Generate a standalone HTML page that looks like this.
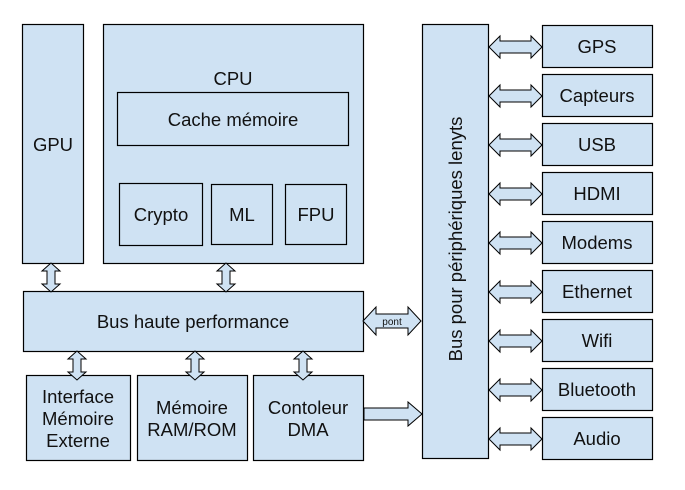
<!DOCTYPE html>
<html><head><style>
body{margin:0;background:#fff}
svg text{font-family:"Liberation Sans",sans-serif;fill:#111}
</style></head><body>
<svg width="685" height="485" viewBox="0 0 685 485" xmlns="http://www.w3.org/2000/svg">
<g fill="#cfe2f3" stroke="#000" stroke-width="1.2">
<rect x="22.5" y="24.5" width="61" height="239"/>
<rect x="103.5" y="24.5" width="260" height="239"/>
<rect x="117.5" y="92.5" width="231" height="53"/>
<rect x="119.5" y="183.5" width="83" height="62"/>
<rect x="211.5" y="184.5" width="61" height="60"/>
<rect x="285.5" y="184.5" width="61" height="60"/>
<rect x="23.5" y="291.5" width="340" height="60"/>
<rect x="26.5" y="375.5" width="104" height="85"/>
<rect x="137.5" y="375.5" width="110" height="85"/>
<rect x="253.5" y="375.5" width="110" height="85"/>
<rect x="422.5" y="24.5" width="66" height="434"/>
<rect x="542.5" y="25.5" width="110" height="42"/>
<rect x="542.5" y="74.5" width="110" height="42"/>
<rect x="542.5" y="123.5" width="110" height="42"/>
<rect x="542.5" y="172.5" width="110" height="42"/>
<rect x="542.5" y="221.5" width="110" height="42"/>
<rect x="542.5" y="270.5" width="110" height="42"/>
<rect x="542.5" y="319.5" width="110" height="42"/>
<rect x="542.5" y="368.5" width="110" height="42"/>
<rect x="542.5" y="417.5" width="110" height="42"/>
</g>
<defs>
<polygon id="ha" points="0,0 11,-11 11,-6 42,-6 42,-11 53,0 42,11 42,6 11,6 11,11"/>
<polygon id="va" points="0,0 -9,8 -4,8 -4,21 -9,21 0,29 9,21 4,21 4,8 9,8"/>
</defs>
<g fill="#cfe2f3" stroke="#000" stroke-width="1">
<use href="#ha" x="489" y="47"/>
<use href="#ha" x="489" y="96"/>
<use href="#ha" x="489" y="145"/>
<use href="#ha" x="489" y="194"/>
<use href="#ha" x="489" y="243"/>
<use href="#ha" x="489" y="292"/>
<use href="#ha" x="489" y="341"/>
<use href="#ha" x="489" y="390"/>
<use href="#ha" x="489" y="439"/>
<use href="#va" x="51" y="263"/>
<use href="#va" x="226" y="263"/>
<use href="#va" x="77" y="351"/>
<use href="#va" x="195" y="351"/>
<use href="#va" x="303" y="351"/>
<polygon points="363,321 376,307 376,314 408,314 408,307 421,321 408,335 408,328 376,328 376,335"/>
<polygon points="364,408 408,408 408,402 422,414 408,426 408,420 364,420"/>
</g>
<g font-size="18.5" text-anchor="middle">
<text x="53" y="151">GPU</text>
<text x="233" y="85">CPU</text>
<text x="233" y="126">Cache mémoire</text>
<text x="161" y="221">Crypto</text>
<text x="242" y="221">ML</text>
<text x="316" y="221">FPU</text>
<text x="193" y="328">Bus haute performance</text>
<text x="78" y="403">Interface</text>
<text x="78" y="425">Mémoire</text>
<text x="78" y="447">Externe</text>
<text x="192" y="414">Mémoire</text>
<text x="192" y="436">RAM/ROM</text>
<text x="308" y="414">Contoleur</text>
<text x="308" y="436">DMA</text>
<text x="597" y="53">GPS</text>
<text x="597" y="102">Capteurs</text>
<text x="597" y="151">USB</text>
<text x="597" y="200">HDMI</text>
<text x="597" y="249">Modems</text>
<text x="597" y="298">Ethernet</text>
<text x="597" y="347">Wifi</text>
<text x="597" y="396">Bluetooth</text>
<text x="597" y="445">Audio</text>
<text transform="translate(462,239) rotate(-90)">Bus pour périphériques lenyts</text>
<text x="392" y="325" font-size="10">pont</text>
</g>
</svg>
</body></html>
